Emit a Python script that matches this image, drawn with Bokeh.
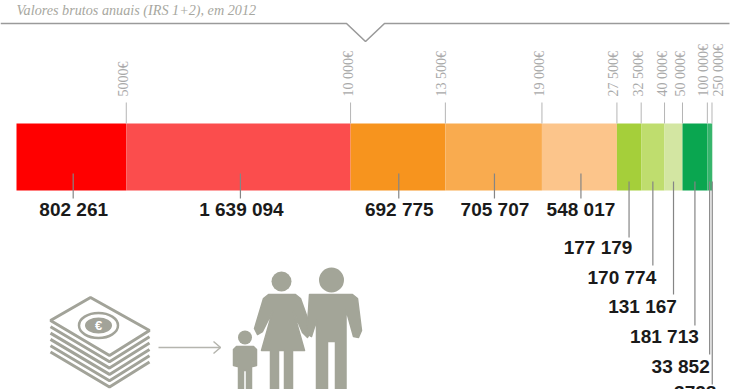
import math
from bokeh.plotting import figure
from bokeh.models import Range1d
from bokeh.core.properties import value
from bokeh.embed import file_html
from bokeh.resources import INLINE

title_text = "Valores brutos anuais (IRS 1+2), em 2012"
bracket_labels = ["5000€", "10 000€", "13 500€", "19 000€", "27 500€", "32 500€", "40 000€", "50 000€", "100 000€", "250 000€"]
persons = [802261, 1639094, 692775, 705707, 548017, 177179, 170774, 131167, 181713, 33852, 3728]
person_labels = ["802 261", "1 639 094", "692 775", "705 707", "548 017", "177 179", "170 774", "131 167", "181 713", "33 852", "3728"]
colors = ["#ff0000", "#fb4d4d", "#f7941e", "#f9ab4f", "#fcc58b", "#a5cf3a", "#bfdd6e", "#d3e6a2", "#0aa650", "#35b56c", "#8fd3a5"]

W, H = 740, 389
X0, X1 = 16, 712
K = (X1 - X0) / sum(persons)
GREY = "#a2a399"

p = figure(width=W, height=H, output_backend="svg", toolbar_location=None,
           x_range=Range1d(-X0 / K, (W - X0) / K), y_range=Range1d(H, 0),
           min_border=0, outline_line_color=None, margin=(0, 0, 0, 0))
p.axis.visible = False
p.grid.visible = False
p.extra_x_ranges["px"] = Range1d(0, W)

cum = [0]
for v in persons:
    cum.append(cum[-1] + v)
mids = [(a + b) / 2 for a, b in zip(cum[:-1], cum[1:])]

# Stacked bar
p.hbar(y=[156.5] * len(persons), height=67, left=cum[:-1], right=cum[1:], fill_color=colors, line_color=None)

# Upper ticks and labels
bounds = cum[1:11]
tick_dx = [-2.5, -2.5, -3.5, -2.5, -3, -3, -2.5, -1.5, -4, 6.5]
p.segment(x0=bounds, x1=bounds, y0=[102] * 10, y1=[123] * 10, line_color="#b5b5b5", line_width=1)
p.text(x=bounds, y=[96] * 10, text=bracket_labels, x_offset=tick_dx, angle=math.pi / 2,
       text_align="left", text_baseline="middle", text_color="#a9a9a9",
       text_font=value("Liberation Serif"), text_font_size="14px")

# Person labels with leaders
leader_nudge = [1.8, 2, 0.8, 0.8, 1.5, 0, 0, 0, 0, 0, 0]
leader_x = [m + n / K for m, n in zip(mids, leader_nudge)]
leader_top = [173] * 5 + [181] * 6
leader_end = [198] * 5 + [237, 265, 294, 325, 354, 384]
p.segment(x0=leader_x, x1=leader_x, y0=leader_top, y1=leader_end, line_color="#858585", line_width=1.2)
label_y = [209, 209, 209, 209, 209, 247, 277, 306, 336, 366, 392]
label_dx = [0.5, 1, 0.5, 0.5, 0, -31, -31, -31, -30.5, -29, -17]
p.text(x=leader_x, y=label_y, text=person_labels, x_offset=label_dx, text_align="center", text_baseline="middle",
       text_color="#1a1a1a", text_font=value("Liberation Sans"), text_font_style="bold", text_font_size="19px")

# Subtitle + top rule
p.text(x=[16], y=[9], text=[title_text], x_range_name="px", text_align="left", text_baseline="middle",
       text_color="#a7a7a0", text_font=value("Liberation Serif"), text_font_style="italic", text_font_size="14.2px")
p.line(x=[0, 346, 365, 384, 729], y=[23, 23, 41, 23, 23], x_range_name="px", line_color="#9a9a9a", line_width=1.6)

# Arrow
p.line(x=[158, 220], y=[347, 347], x_range_name="px", line_color="#b5b5ae", line_width=1.5)
p.line(x=[213, 220, 213], y=[341, 347, 353], x_range_name="px", line_color="#b5b5ae", line_width=1.5)

# Money stack
top, right, bot, left = (90, 297), (149, 330), (109, 355), (50, 320)
for i in range(5, 0, -1):
    d = i * 6.3
    p.line(x=[left[0], bot[0], right[0]], y=[left[1] + d, bot[1] + d, right[1] + d], x_range_name="px",
           line_color=GREY, line_width=3)
p.patch(x=[top[0], right[0], bot[0], left[0]], y=[top[1], right[1], bot[1], left[1]], x_range_name="px",
        fill_color="white", line_color=GREY, line_width=3)
p.ellipse(x=[98], y=[325], width=[39], height=[25], x_range_name="px", fill_color="white", line_color=GREY, line_width=2.5)
p.ellipse(x=[98], y=[325], width=[27], height=[16], x_range_name="px", fill_color=GREY, line_color=None)
p.text(x=[98], y=[325], text=["€"], x_range_name="px", text_align="center", text_baseline="middle",
       text_color="white", text_font=value("Liberation Sans"), text_font_style="bold", text_font_size="13px")

# Family
FIG = "#a3a598"
woman = [(268, 294), (295, 294), (300, 298), (305, 312), (311, 330), (307, 337), (302, 332), (293, 311), (304, 350),
         (292, 350), (292, 389), (284, 389), (284, 350), (278, 350), (278, 389), (270, 389), (270, 350),
         (261, 350), (272, 311), (262, 331), (257, 334), (254, 328), (263, 298)]
man = [(309, 294), (352, 294), (357, 298), (361, 330), (358, 337), (353, 336), (345.5, 309), (345.5, 389),
       (335, 389), (335, 341), (327, 341), (327, 389), (316, 389), (316, 320), (311, 336), (306, 333), (308, 310)]
child = [(236, 346), (253, 346), (256, 349), (256, 365), (252, 366), (251, 353), (251, 389), (246, 389), (246, 370),
         (243, 370), (243, 389), (238, 389), (238, 353), (237, 366), (233, 365), (233, 349)]
for shape in (woman, man, child):
    p.patch(x=[a for a, _ in shape], y=[b for _, b in shape], x_range_name="px", fill_color=FIG, line_color=FIG, line_width=1.5, line_join="round")
for cx, cy, r in ((281, 281, 10), (331, 279.5, 12.5), (244.5, 337, 7)):
    p.ellipse(x=[cx], y=[cy], width=[2 * r], height=[2 * r], x_range_name="px", fill_color=FIG, line_color=None)

open("out.html", "w").write(file_html(p, INLINE))
